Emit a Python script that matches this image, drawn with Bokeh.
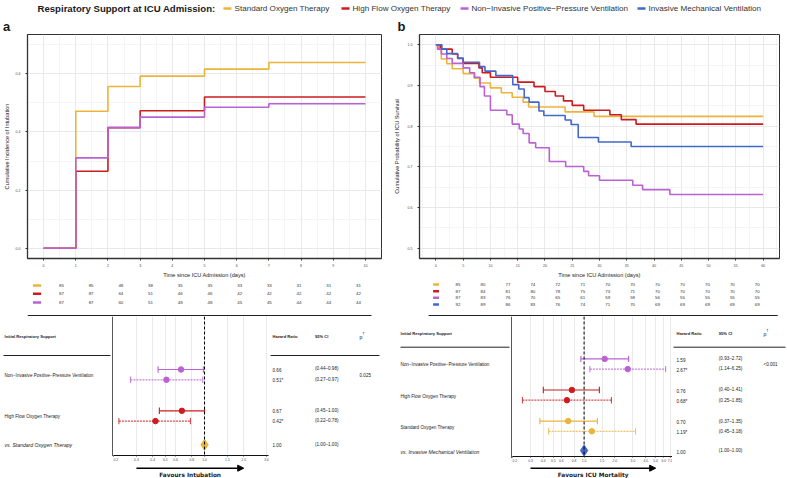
from bokeh.plotting import figure
from bokeh.models import Range1d, FixedTicker, PrintfTickFormatter, Arrow, NormalHead, Span, Grid
from bokeh.layouts import column, row
from bokeh.embed import file_html
from bokeh.resources import INLINE
from bokeh.core.properties import value

FONT = "Liberation Sans"
FONT_W = "DejaVu Sans"
INK = "#1a1a1a"
GREY = "#4d4d4d"
MINUS = "\u2212"

# ---------------- data ----------------
legend_title = "Respiratory Support at ICU Admission:"
groups = ["Standard Oxygen Therapy", "High Flow Oxygen Therapy",
          "Non" + MINUS + "Invasive Positive" + MINUS + "Pressure Ventilation",
          "Invasive Mechanical Ventilation"]
colors = ["#EDB43C", "#CC1C1F", "#BA62D4", "#4467CC"]

# panel a: cumulative incidence of intubation
days_a = [0, 1, 2, 3, 4, 5, 6, 7, 8, 9, 10]
inc_sot = [0.0, 0.471, 0.556, 0.592, 0.592, 0.616, 0.616, 0.639, 0.639, 0.639, 0.639]
inc_hfot = [0.0, 0.265, 0.415, 0.473, 0.473, 0.520, 0.520, 0.520, 0.520, 0.520, 0.520]
inc_nippv = [0.0, 0.311, 0.415, 0.451, 0.451, 0.485, 0.485, 0.497, 0.497, 0.497, 0.497]
risk_a_sot = [85, 85, 48, 38, 35, 35, 33, 33, 31, 31, 31]
risk_a_hfot = [87, 87, 64, 51, 46, 46, 42, 42, 42, 42, 42]
risk_a_nippv = [87, 87, 60, 51, 48, 48, 45, 45, 44, 44, 44]

# panel b: ICU survival
sot_t = [0, 0.5, 1, 2, 3, 5, 7, 8, 10, 12, 14, 16, 17, 23.7, 29, 60]
sot_s = [1, 0.988, 0.965, 0.953, 0.941, 0.929, 0.918, 0.906, 0.894, 0.882, 0.871, 0.859, 0.847, 0.835, 0.824, 0.824]
hfot_t = [0, 0.8, 3, 4, 5, 7.9, 8.5, 10, 15, 18, 20, 21.9, 23.4, 25, 27.1, 31.9, 34, 36.7, 60]
hfot_s = [1, 0.989, 0.977, 0.966, 0.954, 0.943, 0.931, 0.920, 0.908, 0.897, 0.885, 0.874, 0.862, 0.851, 0.839, 0.828, 0.816, 0.805, 0.805]
nippv_t = [0, 0.3, 1, 2, 3, 5, 6.2, 7.1, 8.1, 8.9, 10, 13, 14, 15.3, 16, 17.1, 18.3, 20.8, 23.8, 27.1, 28, 30, 36.1, 37.9, 42.9, 60]
nippv_s = [1, 0.989, 0.977, 0.966, 0.954, 0.943, 0.931, 0.920, 0.897, 0.874, 0.839, 0.828, 0.805, 0.793, 0.782, 0.759, 0.747, 0.713, 0.701, 0.689, 0.678, 0.667, 0.655, 0.644, 0.632, 0.632]
imv_t = [0, 1.1, 2, 4, 5, 8, 9, 11, 14.1, 15.2, 16.2, 17.1, 18.9, 19.8, 23.7, 24.8, 26.1, 29.8, 35.8, 60]
imv_s = [1, 0.989, 0.978, 0.967, 0.957, 0.946, 0.935, 0.924, 0.902, 0.891, 0.870, 0.859, 0.837, 0.826, 0.815, 0.804, 0.772, 0.761, 0.750, 0.750]
days_b = [0, 5, 10, 15, 20, 25, 30, 35, 40, 45, 50, 55, 60]
risk_b_sot = [85, 80, 77, 74, 72, 71, 70, 70, 70, 70, 70, 70, 70]
risk_b_hfot = [87, 84, 81, 80, 78, 75, 73, 71, 70, 70, 70, 70, 70]
risk_b_nippv = [87, 83, 76, 70, 65, 61, 59, 58, 56, 55, 55, 55, 55]
risk_b_imv = [92, 89, 86, 83, 76, 74, 71, 70, 69, 69, 69, 69, 69]

# forest a (vs standard oxygen therapy)
fa_labels = [groups[2], groups[1]]
fa_hr = [0.66, 0.67]
fa_lo = [0.44, 0.45]
fa_hi = [0.98, 1.00]
fa_ahr = [0.51, 0.42]
fa_alo = [0.27, 0.22]
fa_ahi = [0.97, 0.78]
fa_p = "0.025"
fa_ref = "vs. Standard Oxygen Therapy"
fa_ticks = [0.2, 0.3, 0.4, 0.5, 0.6, 0.8, 1.0, 1.5, 2.0, 3.0]
fa_favours = "Favours Intubation"

# forest b (vs invasive mechanical ventilation)
fb_labels = [groups[2], groups[1], groups[0]]
fb_hr = [1.59, 0.76, 0.70]
fb_lo = [0.93, 0.40, 0.37]
fb_hi = [2.72, 1.41, 1.35]
fb_ahr = [2.67, 0.68, 1.19]
fb_alo = [1.14, 0.25, 0.45]
fb_ahi = [6.25, 1.85, 3.18]
fb_p = "<0.001"
fb_ref = "vs. Invasive Mechanical Ventilation"
fb_ticks = [0.2, 0.3, 0.4, 0.5, 0.6, 0.8, 1.0, 1.5, 2.0, 3.0, 4.0, 5.0, 6.0, 7.0]
fb_favours = "Favours ICU Mortality"

table_head = ["Initial Respiratory Support", "Hazard Ratio", "95% CI", "p"]


# ---------------- helpers ----------------
def no_grid(p):
    for r in list(p.center):
        if isinstance(r, Grid):
            r.visible = False


def blank(w, h, xr, yr, log=False):
    p = figure(width=w, height=h, x_range=xr, y_range=yr,
               x_axis_type="log" if log else "linear",
               x_axis_location=None, y_axis_location=None,
               output_backend="svg", toolbar_location=None,
               min_border_left=0, min_border_right=0, min_border_top=0, min_border_bottom=0)
    p.outline_line_color = None
    p.border_fill_color = "white"
    no_grid(p)
    return p


def put(p, xs, ys, labels, size, color=INK, style="normal", align="left", font=FONT):
    p.text(x=xs, y=ys, text=labels, text_font=value(font), text_font_size=value(size),
           text_font_style=value(style), text_color=color, text_align=value(align),
           text_baseline=value("middle"))


def km_fig(w, h, xr, yr, bl, br, xt, xm, yt, ym, ylabel, ystand):
    p = figure(width=w, height=h, x_range=xr, y_range=yr, output_backend="svg",
               toolbar_location=None, min_border_left=bl, min_border_right=br,
               min_border_top=1, min_border_bottom=17)
    p.xaxis.ticker = FixedTicker(ticks=xt, minor_ticks=xm)
    p.yaxis.ticker = FixedTicker(ticks=yt, minor_ticks=ym)
    p.yaxis.formatter = PrintfTickFormatter(format="%.1f")
    p.xaxis.axis_label = "Time since ICU Admission (days)"
    p.yaxis.axis_label = ylabel
    p.axis.axis_label_text_font = FONT
    p.axis.axis_label_text_font_style = "normal"
    p.axis.axis_label_text_font_size = "5.6px"
    p.axis.axis_label_text_color = INK
    p.axis.major_label_text_font = FONT
    p.axis.major_label_text_font_size = "3.6px"
    p.axis.major_label_text_color = GREY
    p.axis.major_tick_in = 0
    p.axis.major_tick_out = 2
    p.axis.minor_tick_line_color = None
    p.axis.axis_line_color = "#333333"
    p.axis.axis_line_width = 1.3
    p.axis.major_tick_line_color = "#333333"
    p.xaxis.major_label_standoff = 1
    p.yaxis.major_label_standoff = 3
    p.xaxis.axis_label_standoff = 2
    p.yaxis.axis_label_standoff = ystand
    p.grid.grid_line_color = "#e6e6e6"
    p.grid.grid_line_width = 0.9
    p.grid.minor_grid_line_color = "#efefef"
    p.grid.minor_grid_line_width = 0.6
    p.outline_line_color = "#333333"
    p.outline_line_width = 1
    return p


def risk_fig(w, xr0, xr1, bl, br, ref_left, days, rows, row_y, dash_l, dash_r, sep_l, sep_r):
    frame = w - bl - br
    scale = frame / (xr1 - xr0)
    x0 = xr0 - bl / scale
    x1 = xr1 + br / scale
    p = blank(w, 36, Range1d(x0, x1), Range1d(316, 280))
    to_d = lambda r: x0 + (r - ref_left) / scale
    for vals, y in zip(rows, row_y):
        put(p, days, [y] * len(days), [str(v) for v in vals], "4.4px", color="#333333", align="center")
    p.segment(x0=[to_d(dash_l)] * len(rows), y0=row_y, x1=[to_d(dash_r)] * len(rows), y1=row_y,
              line_color=colors[:len(rows)], line_width=2.4)
    p.segment(x0=[to_d(sep_l)], y0=[315], x1=[to_d(sep_r)], y1=[315], line_color="#222222", line_width=1.1)
    return p


def build_forest(L, labels, hr, lo, hi, ahr, alo, ahi, pval, ref_label, ref_color, cols,
                 ticks, xr, favours, arrow_ends):
    top, bottom = 316, 478
    wl = L["plot_l"] - L["left"]
    wp = L["plot_r"] - L["plot_l"]
    wr = L["right"] - L["plot_r"]
    # left text column
    lf = blank(wl, bottom - top, Range1d(L["left"], L["plot_l"]), Range1d(bottom, top))
    put(lf, [L["text_x"]], [L["head_y"]], [table_head[0]], "4.1px", style="bold")
    lf.segment(x0=[L["line_l"]], y0=[L["line_y"]], x1=[L["plot_l"] - 3], y1=[L["line_y"]],
               line_color="#222222", line_width=1)
    lf.segment(x0=[L["plot_l"] - 0.6], y0=[top], x1=[L["plot_l"] - 0.6], y1=[L["axis_y"] + 0.5],
               line_color="#111111", line_width=1.2)
    n = len(labels)
    ys = [L["row0"] + i * L["gap"] for i in range(n)]
    yd = [y + L["sub"] for y in ys]
    put(lf, [L["text_x"]] * n, [(a + b) / 2 + 0.5 for a, b in zip(ys, yd)], labels, "4.6px", color="#222222")
    put(lf, [L["text_x"]], [L["ref_y"]], [ref_label], "5.1px", color="#222222", style="italic")

    # plot
    pf = figure(width=wp, height=L["axis_y"] - top + L["axis_h"], x_range=xr,
                y_range=Range1d(L["axis_y"], top), x_axis_type="log", y_axis_location=None,
                output_backend="svg", toolbar_location=None, min_border_left=0,
                min_border_right=L["br"], min_border_top=0, min_border_bottom=L["axis_h"])
    pf.outline_line_color = None
    for g in list(pf.center):
        if isinstance(g, Grid) and g.dimension == 1:
            g.visible = False
    pf.xaxis.ticker = FixedTicker(ticks=ticks, minor_ticks=[])
    pf.xaxis.formatter = PrintfTickFormatter(format="%.1f")
    pf.xaxis.major_label_text_font = FONT
    pf.xaxis.major_label_text_font_size = "3.4px"
    pf.xaxis.major_label_text_color = GREY
    pf.xaxis.major_tick_in = 0
    pf.xaxis.major_tick_out = 1
    pf.xaxis.major_label_standoff = 1
    pf.xaxis.minor_tick_line_color = None
    pf.xaxis.axis_line_color = "#111111"
    pf.xaxis.axis_line_width = 1.1
    pf.xaxis.major_tick_line_color = "#333333"
    pf.xgrid.grid_line_color = "#e3e3e3"
    pf.xgrid.grid_line_width = 0.8
    pf.add_layout(Span(location=1.0, dimension="height", line_color="black", line_width=1,
                       line_dash="3 2"))
    cap = 3.2
    for i in range(n):
        c = cols[i]
        for (h, l, u, y, dash, a) in ((hr[i], lo[i], hi[i], ys[i], "solid", 1.0),
                                     (ahr[i], alo[i], ahi[i], yd[i], "2 1", 0.8)):
            pf.segment(x0=[l], y0=[y], x1=[u], y1=[y], line_color=c, line_width=1.2,
                       line_dash=dash, line_alpha=a)
            pf.segment(x0=[l, u], y0=[y - cap, y - cap], x1=[l, u], y1=[y + cap, y + cap],
                       line_color=c, line_width=1.1, line_alpha=a)
            pf.scatter(x=[h], y=[y], marker="circle", size=5.5, color=c)
    pf.scatter(x=[1.0], y=[L["ref_y"]], marker="diamond", size=11, color=ref_color)

    ab = L["axis_y"] + L["axis_h"]
    af = blank(wp, bottom - ab, xr, Range1d(bottom, ab), log=True)
    af.add_layout(Arrow(end=NormalHead(size=6, fill_color="black", line_color="black"),
                        x_start=arrow_ends[0], y_start=L["arrow_y"], x_end=arrow_ends[1],
                        y_end=L["arrow_y"], line_width=1.4, line_color="black"))
    put(af, [(arrow_ends[0] * arrow_ends[1]) ** 0.5], [L["fav_y"]], [favours], "5.8px",
        style="bold", align="center", font=FONT_W)

    # right text column
    rf = blank(wr, bottom - top, Range1d(L["plot_r"], L["right"]), Range1d(bottom, top))
    put(rf, [L["hr_x"], L["ci_x"]], [L["head_y"]] * 2, table_head[1:3], "4.1px", style="bold")
    put(rf, [L["p_x"]], [L["head_y"] + 0.5], [table_head[3]], "5.2px")
    put(rf, [L["p_x"] + 2.8], [L["head_y"] - 2.2], ["\u2020"], "4.2px")
    rf.segment(x0=[L["plot_r"] + 1], y0=[L["line_y"]], x1=[L["line_r"]], y1=[L["line_y"]],
               line_color="#222222", line_width=1)
    hr_txt = [f"{v:.2f}" for v in hr] + [f"{v:.2f}*" for v in ahr] + ["1.00"]
    ci_txt = ([f"({a:.2f}\u2013{b:.2f})" for a, b in zip(lo, hi)] +
              [f"({a:.2f}\u2013{b:.2f})" for a, b in zip(alo, ahi)] + ["(1.00\u20131.00)"])
    yy = ys + yd + [L["ref_y"]]
    put(rf, [L["hr_x"]] * len(yy), [y + 0.6 for y in yy], hr_txt, "4.6px", color="#222222")
    put(rf, [L["ci_x"]] * len(yy), [y - 0.6 for y in yy], ci_txt, "4.6px", color="#222222")
    put(rf, [L["p_x"]], [(ys[0] + yd[0]) / 2], [pval], "4.6px", color="#222222")
    return row(lf, column(pf, af), rf)


# ---------------- legend strip ----------------
leg = blank(787, 33, Range1d(0, 787), Range1d(33, 0))
put(leg, [37], [8], [legend_title], "9.6px", style="bold")
dash_x = [223, 341, 460, 637]
put(leg, [x + 11 for x in dash_x], [8] * 4, groups, "8.1px", color="#333333")
leg.segment(x0=dash_x, y0=[8] * 4, x1=[x + 8 for x in dash_x], y1=[8] * 4,
            line_color=colors, line_width=2.5)
put(leg, [2.5, 397], [25.5, 25.5], ["a", "b"], "13px", style="bold")

# ---------------- panel a ----------------
KA_BL, KA_BR = 21, 9
km_a = km_fig(390, 247, Range1d(-0.5, 10.5), Range1d(-0.035, 0.735), KA_BL, KA_BR,
              list(range(0, 11)), [k + 0.5 for k in range(-1, 11)],
              [0.0, 0.2, 0.4, 0.6], [0.1, 0.3, 0.5, 0.7],
              "Cumulative Incidence of Intubation", 3)
for vals, c in zip([inc_sot, inc_hfot, inc_nippv], colors):
    km_a.step(x=days_a, y=vals, mode="after", line_color=c, line_width=1.6)

risk_a = risk_fig(390, -0.5, 10.5, KA_BL, KA_BR, 0, days_a,
                  [risk_a_sot, risk_a_hfot, risk_a_nippv], [285, 293.3, 302],
                  6, 15, 0, 379)

LA = dict(left=0, plot_l=113, plot_r=269, right=390, text_x=4, head_y=335.5, line_y=355,
          line_l=3, line_r=379, axis_y=455, axis_h=8, br=1, row0=369, gap=41.3, sub=10.3,
          ref_y=444.3, hr_x=272, ci_x=314.5, p_x=359, arrow_y=467.7, fav_y=474.3)
forest_a = build_forest(LA, fa_labels, fa_hr, fa_lo, fa_hi, fa_ahr, fa_alo, fa_ahi, fa_p,
                        fa_ref, colors[0], [colors[2], colors[1]], fa_ticks,
                        Range1d(0.2, 3.1), fa_favours, (0.3, 2.0))

# ---------------- panel b ----------------
KB_BL, KB_BR = 26, 8
km_b = km_fig(397, 247, Range1d(-3, 63), Range1d(0.475, 1.025), KB_BL, KB_BR,
              list(range(0, 61, 5)), [k + 2.5 for k in range(-5, 61, 5)],
              [0.5, 0.6, 0.7, 0.8, 0.9, 1.0], [0.55, 0.65, 0.75, 0.85, 0.95],
              "Cumulative Probability of ICU Survival", 5)
for (t, s), c in zip([(sot_t, sot_s), (hfot_t, hfot_s), (nippv_t, nippv_s), (imv_t, imv_s)], colors):
    km_b.step(x=t, y=s, mode="after", line_color=c, line_width=1.6)

risk_b = risk_fig(397, -3, 63, KB_BL, KB_BR, 390, days_b,
                  [risk_b_sot, risk_b_hfot, risk_b_nippv, risk_b_imv],
                  [284, 290.7, 297.3, 304], 405, 411.5, 400, 785)

LB = dict(left=390, plot_l=512, plot_r=672, right=787, text_x=400, head_y=332.5, line_y=346.7,
          line_l=400, line_r=785, axis_y=457, axis_h=7, br=0, row0=358.7, gap=31.3, sub=10.3,
          ref_y=451, hr_x=676, ci_x=718.3, p_x=763, arrow_y=467.7, fav_y=474.3)
forest_b = build_forest(LB, fb_labels, fb_hr, fb_lo, fb_hi, fb_ahr, fb_alo, fb_ahi, fb_p,
                        fb_ref, colors[3], [colors[2], colors[1], colors[0]], fb_ticks,
                        Range1d(0.2, 7.3), fb_favours, (0.3, 5.0))

page = column(leg, row(column(km_a, risk_a, forest_a), column(km_b, risk_b, forest_b)))
open("out.html", "w").write(file_html(page, INLINE))
